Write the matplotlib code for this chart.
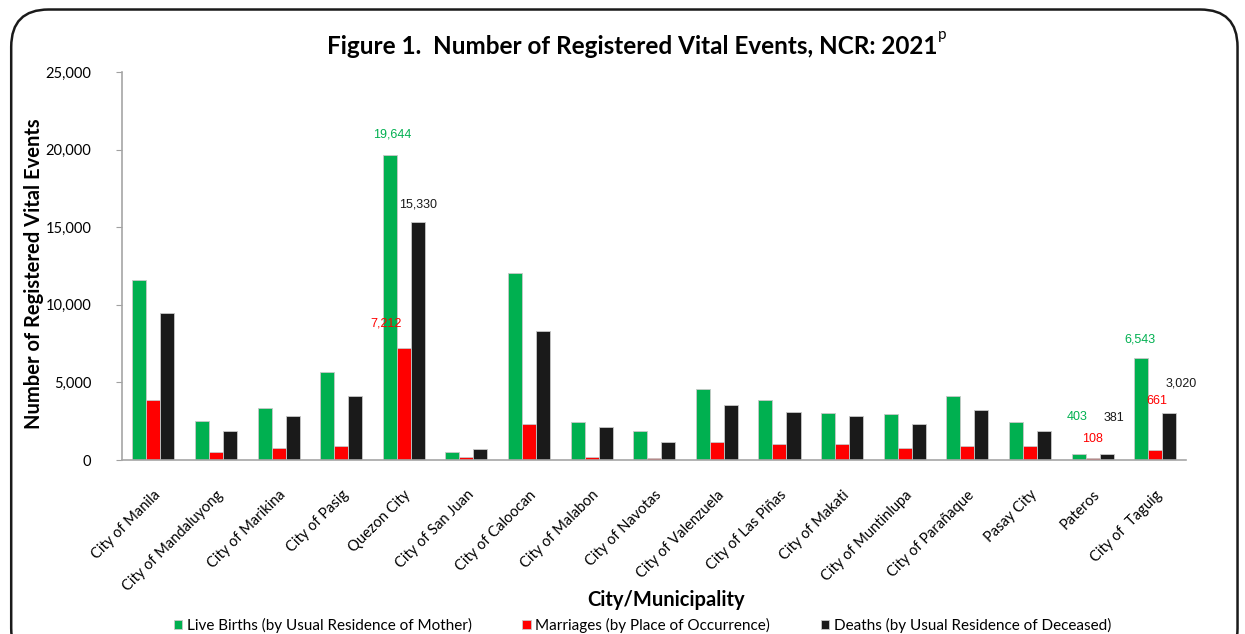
import matplotlib
matplotlib.use("Agg")
import matplotlib.pyplot as plt
from matplotlib.patches import FancyBboxPatch
import numpy as np

plt.rcParams['font.family'] = ['Lato', 'DejaVu Sans']

cities = ["City of Manila", "City of Mandaluyong", "City of Marikina", "City of Pasig",
          "Quezon City", "City of San Juan", "City of Caloocan", "City of Malabon",
          "City of Navotas", "City of Valenzuela", "City of Las Piñas", "City of Makati",
          "City of Muntinlupa", "City of Parañaque", "Pasay City", "Pateros", "City of  Taguig"]

live_births = [11590, 2510, 3350, 5670, 19644, 515, 12040, 2440, 1850, 4600,
               3850, 3020, 2960, 4100, 2440, 403, 6543]
marriages = [3860, 515, 770, 900, 7212, 190, 2320, 190, 110, 1150,
             1040, 1040, 770, 880, 880, 108, 661]
deaths = [9470, 1870, 2830, 4120, 15330, 710, 8300, 2120, 1140, 3530,
          3090, 2850, 2290, 3210, 1850, 381, 3020]

series_names = ["Live Births (by Usual Residence of Mother)",
                "Marriages (by Place of Occurrence)",
                "Deaths (by Usual Residence of Deceased)"]
colors = ["#00B050", "#FF0000", "#1A1A1A"]

# which bars carry a data label: (series index, city index) -> label offset in pixels
label_offsets = {
    (0, 4): (2, 21), (1, 4): (-18, 25), (2, 4): (0, 18),
    (0, 15): (-1, 37), (1, 15): (0, 19), (2, 15): (7, 36),
    (0, 16): (-1, 19), (1, 16): (2, 49), (2, 16): (12, 30),
}

fig = plt.figure(figsize=(12.45, 6.34), dpi=100)
ax = fig.add_axes([0.098, 0.2744, 0.855, 0.612])

# rounded frame around the whole chart
frame = FancyBboxPatch((0.009, -0.05), 0.985, 1.035, transform=fig.transFigure,
                       boxstyle="round,pad=0,rounding_size=0.03",
                       fill=False, edgecolor="#1a1a1a", linewidth=1.8,
                       mutation_aspect=1245 / 634)
fig.patches.append(frame)

x = np.arange(len(cities))
width = 0.224
all_series = [live_births, marriages, deaths]
for i, (vals, col, name) in enumerate(zip(all_series, colors, series_names)):
    xpos = x + (i - 1) * width
    ax.bar(xpos, vals, width, color=col, edgecolor="#c8c8c8", linewidth=0.6, label=name)
    for j, v in enumerate(vals):
        if (i, j) in label_offsets:
            ax.annotate(f"{v:,}", xy=(xpos[j], v), xytext=label_offsets[(i, j)],
                        textcoords="offset pixels", ha="center", va="center",
                        color=col, fontsize=9, family=["Liberation Sans"])

ax.set_xlim(-0.5, len(cities) - 0.5)
ax.set_ylim(0, 25000)
ax.set_yticks(range(0, 25001, 5000))
ax.set_yticklabels([f"{t:,}" for t in range(0, 25001, 5000)], fontsize=10.5)
ax.set_xticks(x)
ax.set_xticklabels(cities, rotation=45, ha="right", rotation_mode="anchor", fontsize=10.5)
ax.tick_params(axis="x", length=0, pad=20)
ax.tick_params(axis="y", length=4, color="#a0a0a0", pad=18)
for s in ["top", "right"]:
    ax.spines[s].set_visible(False)
for s in ["left", "bottom"]:
    ax.spines[s].set_color("#a6a6a6")
    ax.spines[s].set_linewidth(1.2)

fig.text(0.027, 0.569, "Number of Registered Vital Events", rotation=90,
         ha="center", va="center", fontsize=14.5, fontweight="bold")
fig.text(0.535, 0.054, "City/Municipality", ha="center", va="center",
         fontsize=14.5, fontweight="bold")

title = fig.text(0.508, 0.926, "Figure 1.  Number of Registered Vital Events, NCR: 2021",
                 ha="center", va="center", fontsize=17.5, fontweight="bold")
ax.annotate("p", xy=(1, 1), xycoords=title, xytext=(0, 5), textcoords="offset points",
            ha="left", va="top", fontsize=11, annotation_clip=False)

fig.legend(loc="center", bbox_to_anchor=(0.516, 0.013), ncol=3, frameon=False,
           fontsize=11, handlelength=0.55, handleheight=0.55, handletextpad=0.3,
           columnspacing=3.3)

fig.savefig("out.png", dpi=100)
